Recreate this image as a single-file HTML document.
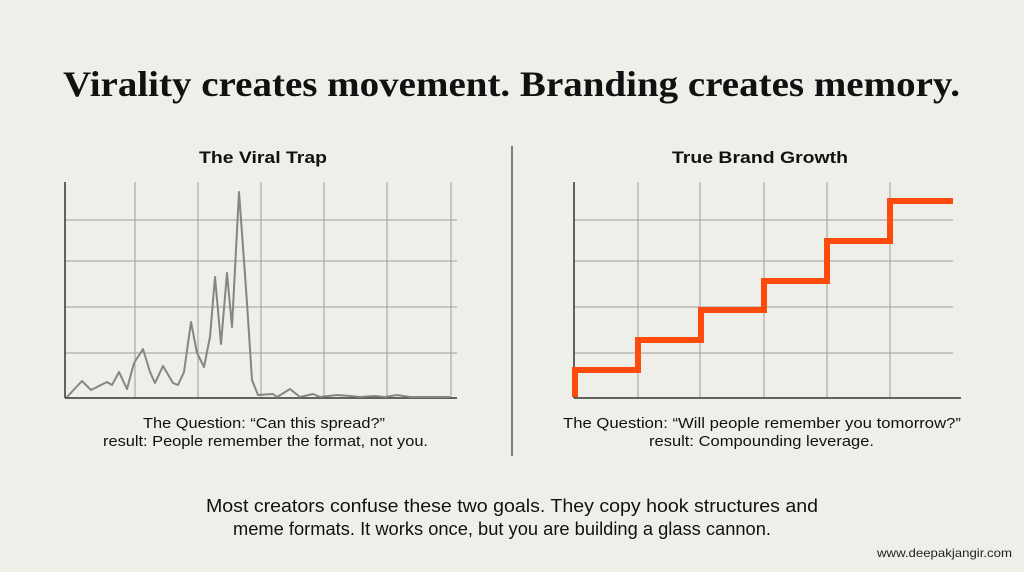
<!DOCTYPE html>
<html><head><meta charset="utf-8"><style>
html,body{margin:0;padding:0;background:#efefea;}
svg{display:block;}
</style></head><body>
<svg width="1024" height="572" viewBox="0 0 1024 572" xmlns="http://www.w3.org/2000/svg">
<rect width="1024" height="572" fill="#efefea"/>
<text x="63" y="96" font-family="Liberation Serif, serif" font-weight="bold" font-size="36" fill="#111" textLength="897" lengthAdjust="spacingAndGlyphs">Virality creates movement. Branding creates memory.</text>

<text x="263" y="163" text-anchor="middle" font-family="Liberation Sans, sans-serif" font-weight="bold" font-size="17" fill="#111" textLength="128" lengthAdjust="spacingAndGlyphs">The Viral Trap</text>
<text x="760" y="163" text-anchor="middle" font-family="Liberation Sans, sans-serif" font-weight="bold" font-size="17" fill="#111" textLength="176" lengthAdjust="spacingAndGlyphs">True Brand Growth</text>

<line x1="512" y1="146" x2="512" y2="456" stroke="#333" stroke-width="1.2"/>

<g stroke="#9c9c98" stroke-width="1">
<line x1="135" y1="182" x2="135" y2="398"/><line x1="198" y1="182" x2="198" y2="398"/>
<line x1="261" y1="182" x2="261" y2="398"/><line x1="324" y1="182" x2="324" y2="398"/>
<line x1="387" y1="182" x2="387" y2="398"/><line x1="451" y1="182" x2="451" y2="398"/>
<line x1="65" y1="220" x2="457" y2="220"/><line x1="65" y1="261" x2="457" y2="261"/>
<line x1="65" y1="307" x2="457" y2="307"/><line x1="65" y1="353" x2="457" y2="353"/>
</g>
<line x1="65" y1="182" x2="65" y2="398" stroke="#333" stroke-width="1.5"/>
<line x1="65" y1="398" x2="457" y2="398" stroke="#333" stroke-width="1.5"/>
<polyline fill="none" stroke="#858581" stroke-width="2" stroke-linejoin="round" points="67,397 82,381 91,390 107,382 112,385 119,372 127,389 134,363 143,349 150,372 155,383 163,366 173,383 178,385 184,372 191,322 197,353 204,367 210,337 215,277 221,344 227,273 232,327 239,192 243,247 247,303 252,380 258,395 273,394 277,397 290,389 300,397 313,394 320,397 337,395 350,396 360,397 375,396 385,397 397,395 410,397 450,397"/>

<g stroke="#9c9c98" stroke-width="1">
<line x1="638" y1="182" x2="638" y2="398"/><line x1="700" y1="182" x2="700" y2="398"/>
<line x1="764" y1="182" x2="764" y2="398"/><line x1="827" y1="182" x2="827" y2="398"/>
<line x1="890" y1="182" x2="890" y2="398"/>
<line x1="574" y1="220" x2="953" y2="220"/><line x1="574" y1="261" x2="953" y2="261"/>
<line x1="574" y1="307" x2="953" y2="307"/><line x1="574" y1="353" x2="953" y2="353"/>
</g>
<line x1="574" y1="182" x2="574" y2="398" stroke="#333" stroke-width="1.5"/>
<line x1="574" y1="398" x2="961" y2="398" stroke="#333" stroke-width="1.5"/>
<polyline fill="none" stroke="#fd4b0e" stroke-width="6" stroke-linejoin="miter" points="575,397 575,370 638,370 638,340 701,340 701,310 764,310 764,281 827,281 827,241 890,241 890,201 953,201"/>

<g font-family="Liberation Sans, sans-serif" font-size="14.5" fill="#111">
<text x="143" y="428" textLength="242" lengthAdjust="spacingAndGlyphs">The Question: “Can this spread?”</text>
<text x="103" y="446" textLength="325" lengthAdjust="spacingAndGlyphs">result: People remember the format, not you.</text>
<text x="563" y="428" textLength="398" lengthAdjust="spacingAndGlyphs">The Question: “Will people remember you tomorrow?”</text>
<text x="649" y="446" textLength="225" lengthAdjust="spacingAndGlyphs">result: Compounding leverage.</text>
</g>
<g font-family="Liberation Sans, sans-serif" font-size="18.5" fill="#111">
<text x="206" y="512" textLength="612" lengthAdjust="spacingAndGlyphs">Most creators confuse these two goals. They copy hook structures and</text>
<text x="233" y="535" textLength="538" lengthAdjust="spacingAndGlyphs">meme formats. It works once, but you are building a glass cannon.</text>
</g>
<text x="877" y="557" font-family="Liberation Sans, sans-serif" font-size="12" fill="#222" textLength="135" lengthAdjust="spacingAndGlyphs">www.deepakjangir.com</text>
</svg>
</body></html>
